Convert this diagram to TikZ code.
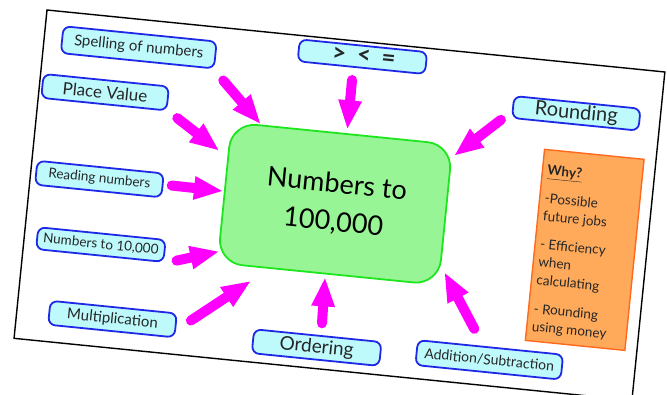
\documentclass[tikz,border=0pt]{standalone}
\usepackage{fontspec}
\setmainfont{Lato}
\usetikzlibrary{arrows.meta}
\definecolor{boxcyan}{RGB}{190,250,252}
\definecolor{boxblue}{RGB}{30,40,230}
\definecolor{maingreen}{RGB}{152,245,150}
\definecolor{mainborder}{RGB}{30,230,30}
\definecolor{whyfill}{RGB}{255,170,90}
\definecolor{whyborder}{RGB}{255,105,30}
\definecolor{arrmag}{RGB}{255,0,255}
\newcommand{\fs}[1]{\fontsize{#1}{#1}\selectfont}
\begin{document}
\begin{tikzpicture}[x=1pt,y=-1pt,
  lbl/.style={draw=boxblue, fill=boxcyan, line width=1.8pt, rounded corners=7pt, inner sep=0pt, text=black!85},
  mainbox/.style={draw=mainborder, fill=maingreen, line width=1.8pt, rounded corners=25pt, inner sep=0pt, align=center},
  whybox/.style={draw=whyborder, fill=whyfill, line width=1.4pt, inner sep=0pt},
  feed/.style={draw=arrmag, line width=10pt, line cap=round, shorten <=5pt,
    -{Triangle[width=24pt,length=28pt,line width=0pt]}}]
\useasboundingbox (0,0) rectangle (667,394);
\begin{scope}[shift={(47,10)}, rotate=-5.73, transform shape]
  % slide frame
  \draw[fill=white, line width=1.4pt] (0,0) rectangle (621,330);
  % central topic
  \node[mainbox, minimum width=222pt, minimum height=141pt, font=\fontsize{27}{38}\selectfont] (main) at (306,164) {Numbers to\\100,000};
  % topic boxes
  \node[lbl, minimum width=154pt, minimum height=27pt, font=\fs{15}] (spell) at (95,28) {Spelling of numbers};
  \node[lbl, minimum width=126pt, minimum height=24pt, font=\fs{17}] (place) at (66,76) {Place Value};
  \node[lbl, minimum width=127pt, minimum height=24pt, font=\fs{13.5}] (read) at (69,163) {Reading numbers};
  \node[lbl, minimum width=128pt, minimum height=22pt, font=\fs{24}\bfseries] (cmp) at (318.5,15) {\hspace{3pt}>\hspace{0.45em}<\hspace{0.45em}=};
  \node[lbl, minimum width=127pt, minimum height=22pt, font=\fs{20}] (round) at (537,50) {Rounding};
  \node[lbl, minimum width=128pt, minimum height=22pt, font=\fs{13.5}] (ten) at (77,228) {Numbers to 10,000};
  \node[lbl, minimum width=127pt, minimum height=24pt, font=\fs{15}] (mult) at (96,301) {Multiplication};
  \node[lbl, minimum width=128pt, minimum height=24pt, font=\fs{19}] (ord) at (302,309) {Ordering};
  \node[lbl, minimum width=146pt, minimum height=25pt, font=\fs{14}] (add) at (475,304) {Addition/Subtraction};
  % why box
  \node[whybox, minimum width=100pt, minimum height=192pt] (whyb) at (559,185) {};
  \node[anchor=north west, inner sep=0pt, align=left, font=\fontsize{13.5}{18}\selectfont, text=black!85] (whyt) at (514,104)
    {\underline{\textbf{Why?}}\\[10pt]-Possible\\future jobs\\[10pt]- Efficiency\\when\\calculating\\[11pt]- Rounding\\using money};
  % arrow ends
  \coordinate (s1) at (178.8,49.1);  \coordinate (e1) at (223.2,91.4);
  \coordinate (s2) at (136.2,91.9);  \coordinate (e2) at (184.4,122.2);
  \coordinate (s3) at (136.6,162.2); \coordinate (e3) at (192.2,162.6);
  \coordinate (s4) at (310.5,34.2);  \coordinate (e4) at (310.8,87.7);
  \coordinate (s5) at (466.3,60.5);  \coordinate (e5) at (420.5,103.6);
  \coordinate (s6) at (149.2,238);   \coordinate (e6) at (194.5,223.4);
  \coordinate (s7) at (170.3,297.8); \coordinate (e7) at (229.1,250);
  \coordinate (s8) at (305.1,289.3); \coordinate (e8) at (303.4,239.3);
  \coordinate (s9) at (459.8,278.8); \coordinate (e9) at (422.3,222.3);
  \foreach \i in {1,...,9} { \draw[feed] (s\i) -- (e\i); }
\end{scope}
\end{tikzpicture}
\end{document}
